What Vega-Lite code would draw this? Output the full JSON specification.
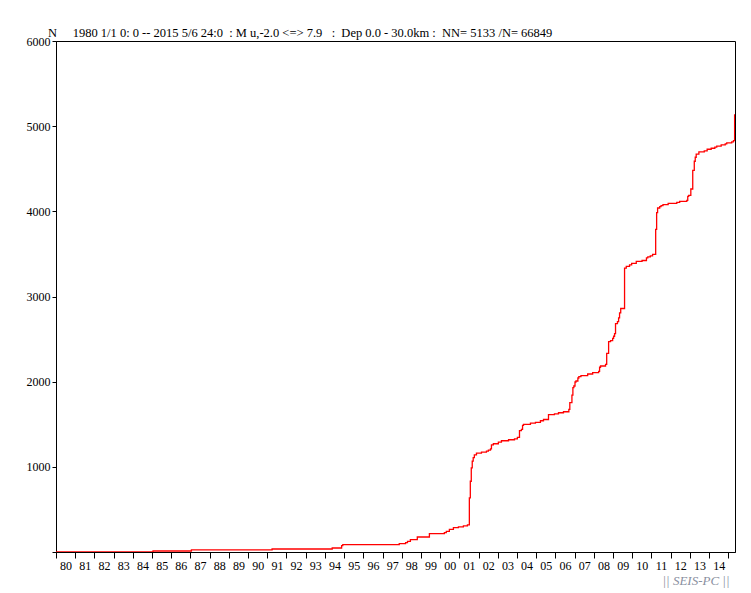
{
  "$schema": "https://vega.github.io/schema/vega-lite/v6.json",
  "width": 679,
  "height": 511,
  "autosize": {"type": "none"},
  "padding": {"left": 56, "top": 41, "right": 16, "bottom": 41},
  "background": "white",
  "title": {
    "text": "N\u00a0\u00a0\u00a0\u00a0\u00a01980 1/1 0: 0 -- 2015 5/6 24:0\u00a0\u00a0: M u,-2.0 <=> 7.9\u00a0\u00a0\u00a0:\u00a0\u00a0Dep 0.0 - 30.0km :\u00a0\u00a0NN= 5133 /N= 66849",
    "anchor": "start",
    "frame": "group",
    "dx": -8,
    "dy": 18,
    "offset": 4,
    "font": "Liberation Serif",
    "fontSize": 12.5,
    "fontWeight": "normal",
    "color": "black",
    "baseline": "alphabetic"
  },
  "config": {
    "view": {"stroke": "black", "strokeWidth": 1},
    "axis": {
      "grid": false,
      "domainColor": "black",
      "domainWidth": 1,
      "tickColor": "black",
      "tickWidth": 1,
      "labelColor": "black",
      "labelFont": "Liberation Serif",
      "labelFontSize": 12,
      "labelOverlap": false,
      "labelFlush": false
    }
  },
  "data": {
    "values": [
      {"year": 1980, "n": 0},
      {"year": 1985.05, "n": 12},
      {"year": 1987.05, "n": 24},
      {"year": 1991.25, "n": 35},
      {"year": 1994.38, "n": 47},
      {"year": 1994.87, "n": 74},
      {"year": 1994.93, "n": 86},
      {"year": 1997.87, "n": 98},
      {"year": 1998.2, "n": 110},
      {"year": 1998.3, "n": 125},
      {"year": 1998.45, "n": 145},
      {"year": 1998.81, "n": 176},
      {"year": 1999.44, "n": 215},
      {"year": 2000.22, "n": 227},
      {"year": 2000.32, "n": 243},
      {"year": 2000.48, "n": 266},
      {"year": 2000.69, "n": 286},
      {"year": 2000.95, "n": 294},
      {"year": 2001.21, "n": 306},
      {"year": 2001.42, "n": 318},
      {"year": 2001.52, "n": 635},
      {"year": 2001.57, "n": 831},
      {"year": 2001.62, "n": 988},
      {"year": 2001.67, "n": 1066},
      {"year": 2001.72, "n": 1109},
      {"year": 2001.78, "n": 1141},
      {"year": 2001.89, "n": 1160},
      {"year": 2002.15, "n": 1172},
      {"year": 2002.41, "n": 1184},
      {"year": 2002.51, "n": 1196},
      {"year": 2002.62, "n": 1212},
      {"year": 2002.67, "n": 1259},
      {"year": 2002.77, "n": 1271},
      {"year": 2003.03, "n": 1290},
      {"year": 2003.19, "n": 1306},
      {"year": 2003.56, "n": 1318},
      {"year": 2003.87, "n": 1329},
      {"year": 2004.02, "n": 1345},
      {"year": 2004.13, "n": 1424},
      {"year": 2004.23, "n": 1439},
      {"year": 2004.29, "n": 1486},
      {"year": 2004.34, "n": 1498},
      {"year": 2004.7, "n": 1513},
      {"year": 2004.96, "n": 1521},
      {"year": 2005.22, "n": 1541},
      {"year": 2005.38, "n": 1556},
      {"year": 2005.64, "n": 1612},
      {"year": 2005.95, "n": 1623},
      {"year": 2006.16, "n": 1635},
      {"year": 2006.42, "n": 1647},
      {"year": 2006.7, "n": 1674},
      {"year": 2006.75, "n": 1753},
      {"year": 2006.86, "n": 1843},
      {"year": 2006.91, "n": 1929},
      {"year": 2006.96, "n": 1949},
      {"year": 2007.02, "n": 1996},
      {"year": 2007.07, "n": 2008},
      {"year": 2007.17, "n": 2043},
      {"year": 2007.22, "n": 2059},
      {"year": 2007.33, "n": 2071},
      {"year": 2007.68, "n": 2090},
      {"year": 2007.94, "n": 2106},
      {"year": 2008.25, "n": 2122},
      {"year": 2008.3, "n": 2169},
      {"year": 2008.35, "n": 2184},
      {"year": 2008.61, "n": 2204},
      {"year": 2008.67, "n": 2333},
      {"year": 2008.77, "n": 2471},
      {"year": 2008.87, "n": 2482},
      {"year": 2008.98, "n": 2509},
      {"year": 2009.03, "n": 2533},
      {"year": 2009.08, "n": 2565},
      {"year": 2009.13, "n": 2682},
      {"year": 2009.23, "n": 2706},
      {"year": 2009.29, "n": 2749},
      {"year": 2009.34, "n": 2808},
      {"year": 2009.4, "n": 2859},
      {"year": 2009.6, "n": 3333},
      {"year": 2009.69, "n": 3353},
      {"year": 2009.86, "n": 3372},
      {"year": 2009.97, "n": 3388},
      {"year": 2010.21, "n": 3412},
      {"year": 2010.51, "n": 3423},
      {"year": 2010.74, "n": 3454},
      {"year": 2010.81, "n": 3466},
      {"year": 2010.94, "n": 3478},
      {"year": 2011.06, "n": 3494},
      {"year": 2011.22, "n": 3788},
      {"year": 2011.27, "n": 3984},
      {"year": 2011.32, "n": 4039},
      {"year": 2011.43, "n": 4055},
      {"year": 2011.5, "n": 4066},
      {"year": 2011.6, "n": 4078},
      {"year": 2011.87, "n": 4094},
      {"year": 2012.32, "n": 4106},
      {"year": 2012.47, "n": 4118},
      {"year": 2012.84, "n": 4129},
      {"year": 2012.89, "n": 4176},
      {"year": 2012.94, "n": 4188},
      {"year": 2013.05, "n": 4262},
      {"year": 2013.15, "n": 4482},
      {"year": 2013.23, "n": 4588},
      {"year": 2013.28, "n": 4635},
      {"year": 2013.33, "n": 4671},
      {"year": 2013.47, "n": 4698},
      {"year": 2013.75, "n": 4710},
      {"year": 2013.9, "n": 4729},
      {"year": 2014.11, "n": 4741},
      {"year": 2014.3, "n": 4753},
      {"year": 2014.4, "n": 4765},
      {"year": 2014.63, "n": 4780},
      {"year": 2014.84, "n": 4792},
      {"year": 2014.92, "n": 4804},
      {"year": 2015.18, "n": 4816},
      {"year": 2015.27, "n": 4831},
      {"year": 2015.33, "n": 5133},
      {"year": 2015.35, "n": 5133}
    ]
  },
  "mark": {"type": "line", "interpolate": "step-after", "color": "#ff0000", "strokeWidth": 1.3, "clip": true},
  "encoding": {
    "x": {
      "field": "year",
      "type": "quantitative",
      "scale": {"domain": [1980, 2015.35], "nice": false, "zero": false},
      "axis": {
        "values": [1980,1981,1982,1983,1984,1985,1986,1987,1988,1989,1990,1991,1992,1993,1994,1995,1996,1997,1998,1999,2000,2001,2002,2003,2004,2005,2006,2007,2008,2009,2010,2011,2012,2013,2014,2015],
        "labelExpr": "datum.value >= 2015 ? '' : substring(toString(datum.value), 2, 4)",
        "labelOffset": 9.6,
        "labelAlign": "center",
        "tickSize": 6,
        "labelPadding": 2,
        "title": "||\u00a0SEIS-PC\u00a0||",
        "titleFont": "Liberation Serif",
        "titleFontSize": 13,
        "titleFontStyle": "italic",
        "titleFontWeight": "normal",
        "titleColor": "#8a8fa0",
        "titleAnchor": "end",
        "titleAlign": "right",
        "titleX": 673,
        "titlePadding": 3
      }
    },
    "y": {
      "field": "n",
      "type": "quantitative",
      "scale": {"domain": [0, 6000], "nice": false},
      "axis": {
        "values": [0, 1000, 2000, 3000, 4000, 5000, 6000],
        "labelExpr": "datum.value == 0 ? '' : toString(datum.value)",
        "tickSize": 4,
        "labelPadding": 2,
        "title": null
      }
    }
  }
}
